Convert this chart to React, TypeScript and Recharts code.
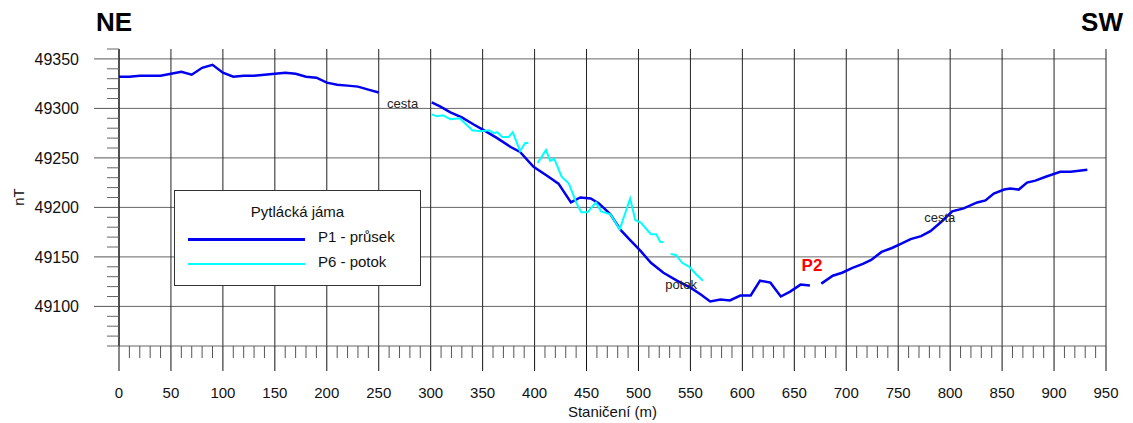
import React from 'react';
import { LineChart, Line, XAxis, YAxis, CartesianGrid, Legend, ReferenceDot } from 'recharts';

type Pt = { x: number; v: number };
const toPts = (rows: number[][]): Pt[] => rows.map(([x, v]) => ({ x, v }));

// P1 - průsek (three pieces, gaps at 250-300 and around P2)
const p1A = toPts([
  [0, 49332], [10, 49332], [20, 49333], [40, 49333], [50, 49335], [60, 49337], [70, 49334],
  [80, 49341], [90, 49344], [100, 49336], [110, 49332], [120, 49333], [130, 49333], [140, 49334],
  [150, 49335], [160, 49336], [170, 49335], [180, 49332], [190, 49331], [200, 49326], [210, 49324],
  [220, 49323], [230, 49322], [240, 49319], [250, 49316],
]);
const p1B = toPts([
  [301, 49306], [309, 49302], [319, 49296], [330, 49291], [341, 49284], [351, 49278], [364, 49270],
  [377, 49261], [386, 49256], [399, 49241], [412, 49232], [423, 49224], [435, 49205], [444, 49210],
  [454, 49209], [462, 49204], [473, 49193], [483, 49177], [492, 49167], [502, 49156], [512, 49144],
  [524, 49134], [537, 49126], [550, 49119], [560, 49112], [569, 49105], [579, 49107], [588, 49106],
  [598, 49111], [608, 49111], [617, 49126], [627, 49124], [637, 49110], [646, 49115], [656, 49122],
  [665, 49121],
]);
const p1C = toPts([
  [676, 49123], [687, 49131], [696, 49134], [706, 49139], [716, 49143], [724, 49147], [734, 49155],
  [744, 49159], [752, 49163], [762, 49168], [772, 49171], [781, 49176], [791, 49185], [802, 49196],
  [813, 49199], [826, 49205], [834, 49207], [842, 49214], [852, 49218], [858, 49219], [866, 49218],
  [874, 49225], [882, 49227], [892, 49231], [906, 49236], [916, 49236], [932, 49238],
]);

// P6 - potok
const p6A = toPts([
  [301, 49294], [306, 49292], [312, 49293], [319, 49289], [328, 49290], [340, 49278], [348, 49277],
  [356, 49278], [361, 49275], [364, 49276], [369, 49271], [375, 49271], [379, 49276], [386, 49257],
  [391, 49265], [394, 49265],
]);
const p6B = toPts([
  [403, 49245], [411, 49258], [415, 49247], [419, 49249], [426, 49231], [433, 49224], [440, 49205],
  [445, 49195], [451, 49195], [459, 49205], [464, 49196], [473, 49193], [482, 49178], [492, 49209],
  [497, 49187], [502, 49185], [512, 49173], [517, 49173], [521, 49165], [524, 49165],
]);
const p6C = toPts([
  [531, 49153], [536, 49152], [542, 49144], [549, 49140], [555, 49133], [562, 49126],
]);

const xMajor = [0, 50, 100, 150, 200, 250, 300, 350, 400, 450, 500, 550, 600, 650, 700, 750, 800, 850, 900, 950];
const yMajor = [49100, 49150, 49200, 49250, 49300, 49350];

const xTicks: number[] = [];
for (let i = 0; i <= 950; i += 10) xTicks.push(i);
const yTicks: number[] = [];
for (let i = 49060; i <= 49360; i += 10) yTicks.push(i);

const notes = [
  { x: 273, y: 49305, text: 'cesta', kind: 'note' },
  { x: 541, y: 49122, text: 'potok', kind: 'note' },
  { x: 790, y: 49190, text: 'cesta', kind: 'note' },
  { x: 667, y: 49142, text: 'P2', kind: 'mark' },
];

const FONT = '"Liberation Sans", Arial, sans-serif';
const BLUE = '#0000ee';
const CYAN = '#00ffff';

const XTick = (props: any) => {
  const { x, y, payload } = props;
  const major = payload.value % 50 === 0;
  return (
    <g>
      <line x1={x} x2={x} y1={y} y2={y + (major ? 25 : 12)} stroke={major ? '#111' : '#555'} strokeWidth={1} />
      {major && (
        <text x={x} y={y + 52} textAnchor="middle" fontSize={15} fontFamily={FONT} fill="#111">
          {payload.value}
        </text>
      )}
    </g>
  );
};

const YTick = (props: any) => {
  const { x, y, payload } = props;
  const major = payload.value % 50 === 0;
  return (
    <g>
      <line x1={x - (major ? 25 : 12)} x2={x} y1={y} y2={y} stroke={major ? '#555' : '#666'} strokeWidth={1} />
      {major && (
        <text x={x - 40} y={y + 6} textAnchor="end" fontSize={16} fontFamily={FONT} fill="#111">
          {payload.value}
        </text>
      )}
    </g>
  );
};

const LegendBox = (props: any) => {
  const items = (props.payload || []).filter((p: any) => p.type !== 'none');
  return (
    <div
      style={{
        width: 245,
        height: 94,
        border: '1px solid #333',
        background: '#fff',
        fontFamily: FONT,
        fontSize: 15,
        color: '#111',
        position: 'relative',
      }}
    >
      <div style={{ position: 'absolute', top: 12, left: 0, width: 245, textAlign: 'center' }}>Pytlácká jáma</div>
      {items.map((it: any, i: number) => (
        <div key={it.value} style={{ position: 'absolute', top: 38 + i * 25, left: 0, height: 20 }}>
          <div
            style={{
              position: 'absolute',
              left: 13,
              top: 9,
              width: 117,
              height: 0,
              borderTop: `${i === 0 ? 3 : 2}px solid ${it.color}`,
            }}
          />
          <div style={{ position: 'absolute', left: 143, top: -1, whiteSpace: 'nowrap' }}>{it.value}</div>
        </div>
      ))}
    </div>
  );
};

const NoteShape = (note: (typeof notes)[number]) => (props: any) => {
  const { cx, cy } = props;
  const mark = note.kind === 'mark';
  return (
    <text
      x={cx}
      y={cy + (mark ? 6 : 4.5)}
      textAnchor="middle"
      fontSize={mark ? 17 : 13}
      fontWeight={mark ? 'bold' : 'normal'}
      fontFamily={FONT}
      fill={mark ? '#ff0000' : '#222'}
    >
      {note.text}
    </text>
  );
};

export default function App() {
  return (
    <div style={{ position: 'absolute', left: 0, top: 0, width: 1133, height: 423, background: '#fff' }}>
      <LineChart width={1133} height={423} margin={{ top: 49, right: 27, left: 0, bottom: 0 }}>
        {/* horizontal grid is grey, vertical grid is near-black in the original */}
        <CartesianGrid vertical={false} horizontalValues={yMajor} stroke="#666" strokeWidth={1} />
        <CartesianGrid horizontal={false} verticalValues={xMajor} stroke="#222" strokeWidth={1} />
        <XAxis
          dataKey="x"
          type="number"
          domain={[0, 950]}
          ticks={xTicks}
          interval={0}
          tickSize={0}
          tickMargin={0}
          tickLine={false}
          tick={<XTick />}
          height={77}
          stroke="#666"
          allowDuplicatedCategory={false}
          label={{ value: 'Staničení (m)', position: 'insideBottom', offset: 6, fontSize: 15, fontFamily: FONT, fill: '#111' }}
        />
        <YAxis
          type="number"
          domain={[49060, 49360]}
          ticks={yTicks}
          interval={0}
          tickSize={0}
          tickMargin={0}
          tickLine={false}
          tick={<YTick />}
          width={119}
          stroke="#111"
        />
        <Legend
          layout="horizontal"
          verticalAlign="middle"
          align="center"
          wrapperStyle={{ left: 174, top: 190, width: 247, height: 96 }}
          content={<LegendBox />}
        />
        <Line data={p1A} dataKey="v" name="P1 - průsek" stroke={BLUE} strokeWidth={2.5} dot={false} isAnimationActive={false} />
        <Line data={p1B} dataKey="v" name="P1b" legendType="none" stroke={BLUE} strokeWidth={2.5} dot={false} isAnimationActive={false} />
        <Line data={p1C} dataKey="v" name="P1c" legendType="none" stroke={BLUE} strokeWidth={2.5} dot={false} isAnimationActive={false} />
        <Line data={p6A} dataKey="v" name="P6 - potok" stroke={CYAN} strokeWidth={2} dot={false} isAnimationActive={false} />
        <Line data={p6B} dataKey="v" name="P6b" legendType="none" stroke={CYAN} strokeWidth={2} dot={false} isAnimationActive={false} />
        <Line data={p6C} dataKey="v" name="P6c" legendType="none" stroke={CYAN} strokeWidth={2} dot={false} isAnimationActive={false} />
        {notes.map((n, i) => (
          <ReferenceDot key={i} x={n.x} y={n.y} r={1} shape={NoteShape(n)} />
        ))}
      </LineChart>
      <svg width={1133} height={423} style={{ position: 'absolute', left: 0, top: 0, pointerEvents: 'none' }}>
        <text x={96} y={31} fontSize={26} fontWeight="bold" fontFamily={FONT} fill="#000">NE</text>
        <text x={1123} y={31} textAnchor="end" fontSize={26} fontWeight="bold" fontFamily={FONT} fill="#000">SW</text>
        <text transform="translate(24,197) rotate(-90)" textAnchor="middle" fontSize={15} fontFamily={FONT} fill="#111">nT</text>
      </svg>
    </div>
  );
}
